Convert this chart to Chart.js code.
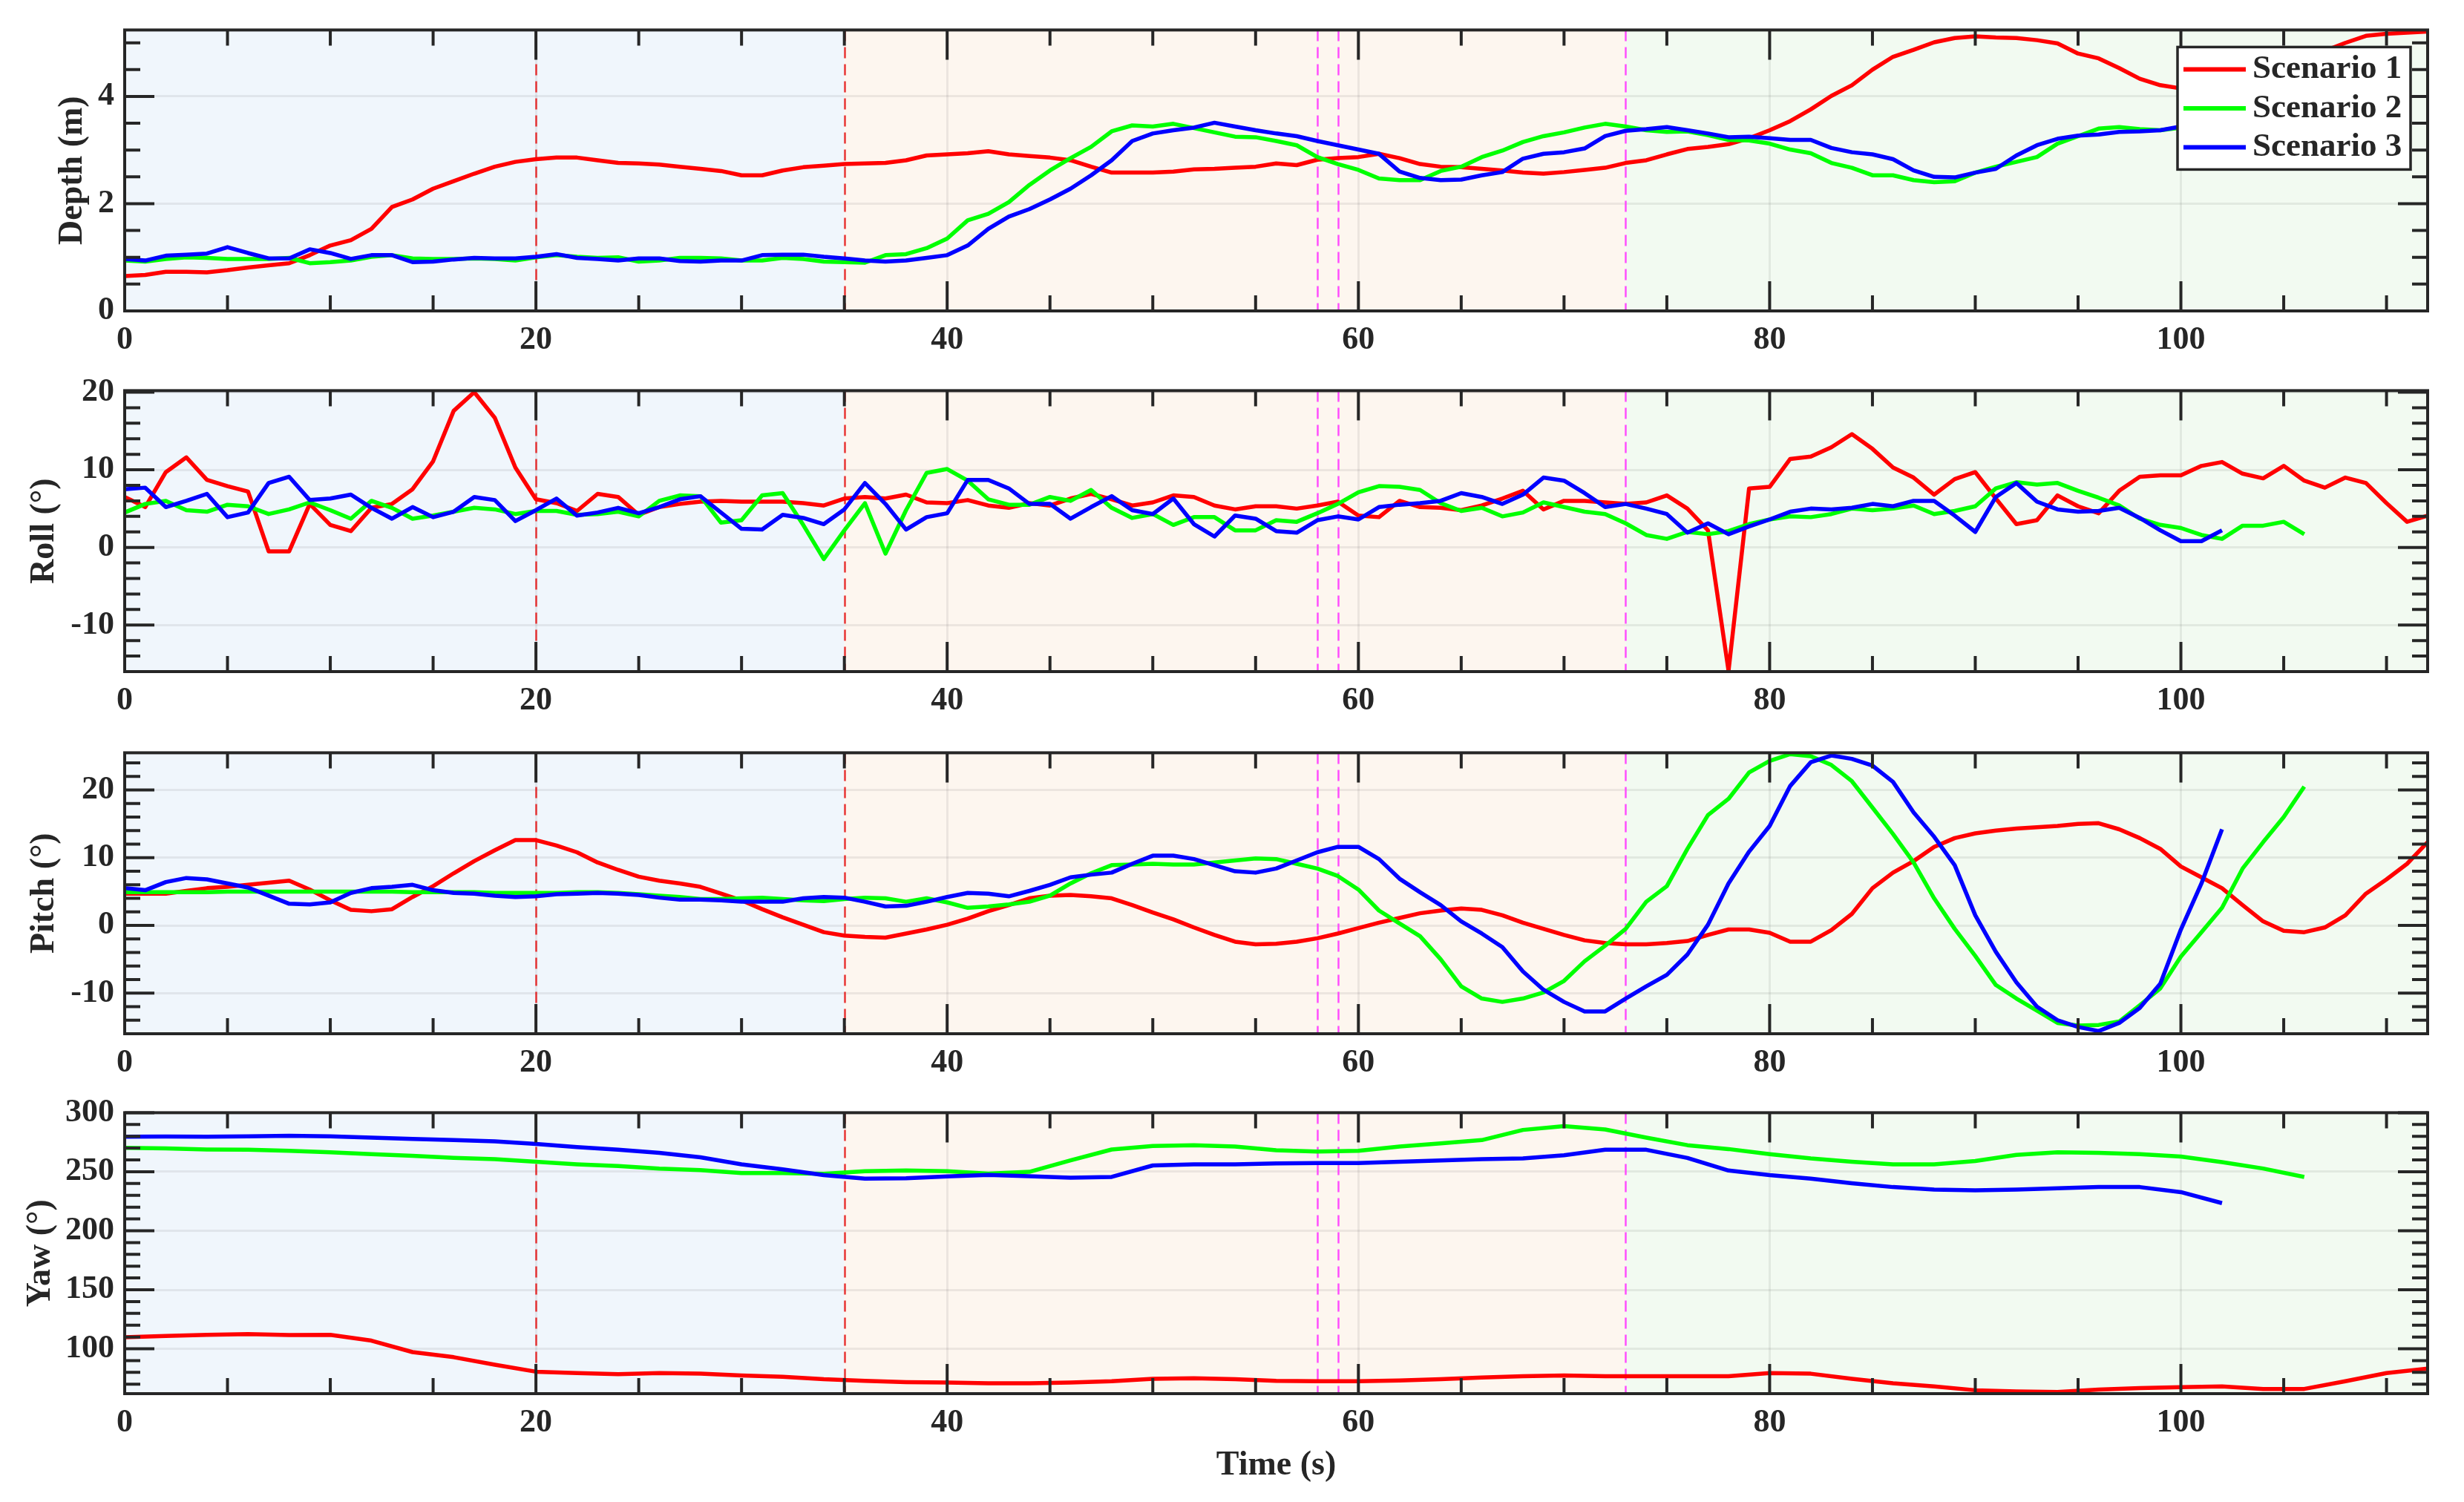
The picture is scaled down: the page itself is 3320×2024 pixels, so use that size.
<!DOCTYPE html>
<html><head><meta charset="utf-8">
<script src="https://cdn.jsdelivr.net/npm/chart.js@4.4.1/dist/chart.umd.min.js"></script>
<style>
html,body{margin:0;padding:0;background:#fff;}
body{width:3320px;height:2024px;position:relative;overflow:hidden;}
canvas{position:absolute;left:0;}
</style></head><body>
<canvas id="p0" width="3320" height="486" style="top:0px;width:3320px;height:486px"></canvas>
<canvas id="p1" width="3320" height="486" style="top:486px;width:3320px;height:486px"></canvas>
<canvas id="p2" width="3320" height="486" style="top:974px;width:3320px;height:486px"></canvas>
<canvas id="p3" width="3320" height="565" style="top:1459px;width:3320px;height:565px"></canvas>
<script>
// ---------------- DATA ----------------
const SCENARIOS = ['Scenario 1', 'Scenario 2', 'Scenario 3'];
function seq(start, end, step) { const a = []; for (let v = start; v <= end + 1e-9; v += step) a.push(v); return a; }
const TIME_S1 = seq(0, 112, 1);
const TIME_S2 = seq(0, 106, 1);
const TIME_S3 = seq(0, 102, 1);
const YAW_TIME_S1 = seq(0, 112, 2);
const YAW_TIME_S2 = seq(0, 106, 2);
const YAW_TIME_S3 = seq(0, 102, 2);

const X_TICKS = [0, 20, 40, 60, 80, 100];
const X_RANGE = [0, 112];
const PHASE_BOUNDS = [0, 35, 73, 112];
const RED_EVENTS = [20, 35];
const MAGENTA_EVENTS = [58, 59, 73];

const DEPTH_TICKS = [0, 2, 4];
const ROLL_TICKS = [-10, 0, 10, 20];
const PITCH_TICKS = [-10, 0, 10, 20];
const YAW_TICKS = [100, 150, 200, 250, 300];

const depthS1 = [0.65,0.67,0.73,0.73,0.72,0.76,0.81,0.85,0.89,1.04,
1.22,1.32,1.53,1.94,2.08,2.28,2.42,2.56,2.69,2.78,
2.83,2.86,2.86,2.81,2.76,2.75,2.73,2.69,2.65,2.61,
2.53,2.53,2.62,2.68,2.71,2.74,2.75,2.76,2.81,2.90,
2.92,2.94,2.98,2.92,2.89,2.86,2.81,2.69,2.58,2.58,
2.58,2.60,2.64,2.65,2.67,2.69,2.75,2.72,2.82,2.85,
2.87,2.93,2.85,2.74,2.69,2.68,2.65,2.62,2.58,2.56,
2.59,2.63,2.67,2.76,2.81,2.92,3.02,3.06,3.11,3.22,
3.37,3.54,3.76,4.01,4.21,4.50,4.74,4.87,5.01,5.09,
5.12,5.10,5.09,5.05,4.99,4.80,4.71,4.53,4.33,4.21,
4.15,4.12,4.12,4.18,4.30,4.50,4.68,4.85,5.00,5.13,
5.17,5.19,5.21];
const depthS2 = [0.94,0.92,0.97,1.00,0.99,0.97,0.97,0.97,0.99,0.89,
0.91,0.94,1.01,1.04,0.98,0.97,0.97,0.98,0.97,0.94,
1.00,1.04,1.01,0.99,1.00,0.92,0.94,0.99,0.99,0.98,
0.94,0.94,0.99,0.97,0.92,0.91,0.90,1.04,1.06,1.17,
1.35,1.69,1.81,2.03,2.35,2.62,2.85,3.06,3.35,3.46,
3.44,3.49,3.41,3.33,3.25,3.24,3.17,3.09,2.87,2.74,
2.63,2.47,2.44,2.44,2.61,2.69,2.87,2.99,3.15,3.26,
3.33,3.42,3.49,3.44,3.37,3.34,3.35,3.28,3.19,3.18,
3.12,3.01,2.94,2.76,2.67,2.53,2.53,2.44,2.40,2.42,
2.58,2.69,2.78,2.87,3.12,3.26,3.40,3.43,3.39,3.37,
3.42,3.45,3.47,3.50,3.50,3.52,3.55];
const depthS3 = [0.97,0.94,1.03,1.05,1.07,1.19,1.08,0.98,0.98,1.15,
1.08,0.97,1.04,1.04,0.91,0.92,0.96,0.99,0.98,0.98,
1.01,1.06,0.99,0.97,0.94,0.98,0.98,0.93,0.92,0.94,
0.94,1.04,1.05,1.05,1.01,0.98,0.94,0.92,0.94,0.99,
1.04,1.22,1.53,1.76,1.90,2.08,2.28,2.53,2.81,3.17,
3.31,3.37,3.42,3.51,3.44,3.37,3.31,3.26,3.17,3.09,
3.01,2.93,2.60,2.48,2.44,2.45,2.53,2.59,2.84,2.93,
2.96,3.03,3.26,3.36,3.39,3.43,3.37,3.31,3.24,3.25,
3.22,3.19,3.19,3.04,2.96,2.92,2.83,2.62,2.50,2.49,
2.58,2.65,2.90,3.09,3.21,3.27,3.29,3.34,3.35,3.37,
3.44,3.46,3.48];

const rollS1 = [6.5,5.2,9.7,11.6,8.7,7.9,7.2,-0.5,-0.5,5.6,
2.9,2.1,5.1,5.6,7.5,11.1,17.6,20.0,16.7,10.3,
6.2,5.7,4.7,6.9,6.5,4.2,5.2,5.6,5.9,6.0,
5.9,5.9,5.9,5.7,5.4,6.3,6.5,6.3,6.8,5.8,
5.7,6.1,5.4,5.1,5.7,5.4,6.3,6.9,6.2,5.4,
5.8,6.7,6.5,5.4,4.9,5.3,5.3,5.0,5.4,5.9,
4.1,3.9,6.0,5.2,5.1,4.8,5.4,6.3,7.3,4.9,
6.0,6.0,5.8,5.6,5.8,6.7,5.0,2.2,-15.9,7.6,
7.8,11.4,11.7,12.9,14.6,12.7,10.3,9.0,6.8,8.8,
9.7,6.3,3.0,3.5,6.7,5.3,4.4,7.3,9.1,9.3,
9.3,10.5,11.0,9.5,8.9,10.5,8.6,7.7,9.0,8.3,
5.7,3.3,4.1];
const rollS2 = [4.5,5.6,6.0,4.8,4.6,5.5,5.3,4.3,4.9,5.8,
4.8,3.7,6.0,5.1,3.7,4.1,4.6,5.1,4.9,4.3,
4.7,4.7,4.2,4.3,4.6,4.0,6.0,6.7,6.6,3.2,
3.5,6.7,7.0,2.9,-1.5,2.2,5.7,-0.8,4.8,9.6,
10.1,8.6,6.2,5.5,5.5,6.5,6.0,7.4,5.1,3.8,
4.3,2.9,3.9,3.9,2.2,2.2,3.5,3.3,4.4,5.6,
7.1,7.9,7.8,7.4,5.7,4.7,5.1,4.0,4.5,5.8,
5.2,4.6,4.3,3.1,1.6,1.1,2.0,1.7,2.1,3.0,
3.6,4.0,3.9,4.3,5.0,4.8,5.0,5.4,4.3,4.7,
5.3,7.6,8.4,8.1,8.3,7.3,6.4,5.4,3.7,2.9,
2.5,1.6,1.1,2.8,2.8,3.3,1.7];
const rollS3 = [7.5,7.7,5.2,6.0,6.9,3.9,4.5,8.3,9.1,6.1,
6.3,6.8,5.1,3.7,5.2,3.9,4.6,6.5,6.1,3.4,
4.8,6.3,4.1,4.5,5.1,4.4,5.2,6.2,6.6,4.5,
2.4,2.3,4.2,3.8,3.0,4.9,8.3,5.6,2.3,3.9,
4.4,8.7,8.7,7.6,5.6,5.6,3.7,5.2,6.6,4.8,
4.3,6.3,3.0,1.4,4.1,3.7,2.1,1.9,3.5,4.0,
3.6,5.2,5.5,5.7,6.0,7.0,6.5,5.6,6.8,9.0,
8.6,7.0,5.2,5.6,5.0,4.3,1.9,3.1,1.7,2.7,
3.6,4.6,5.0,4.9,5.1,5.6,5.3,6.0,6.0,4.1,
2.0,6.5,8.3,5.9,4.9,4.6,4.7,5.1,3.8,2.2,
0.8,0.8,2.2];

const pitchS1 = [4.7,4.7,4.7,5.1,5.5,5.7,6.0,6.3,6.6,5.3,
3.7,2.3,2.1,2.4,4.2,5.8,7.7,9.5,11.1,12.6,
12.6,11.8,10.8,9.3,8.2,7.2,6.6,6.2,5.7,4.7,
3.7,2.4,1.2,0.1,-1.0,-1.5,-1.7,-1.8,-1.2,-0.6,
0.1,1.0,2.1,3.0,4.0,4.4,4.5,4.3,4.0,3.0,
1.9,0.9,-0.3,-1.4,-2.4,-2.8,-2.7,-2.4,-1.9,-1.2,
-0.4,0.4,1.1,1.8,2.2,2.5,2.3,1.5,0.4,-0.5,
-1.4,-2.2,-2.6,-2.8,-2.8,-2.6,-2.3,-1.4,-0.6,-0.6,
-1.1,-2.4,-2.4,-0.7,1.7,5.5,7.8,9.5,11.6,12.9,
13.6,14.0,14.3,14.5,14.7,15.0,15.1,14.2,12.9,11.3,
8.7,7.1,5.5,3.0,0.6,-0.8,-1.0,-0.3,1.5,4.7,
6.8,9.1,12.3];
const pitchS2 = [4.9,4.9,4.9,4.9,4.9,5.0,5.0,5.0,5.0,5.0,
5.0,5.0,5.0,5.0,4.9,4.9,4.9,4.9,4.8,4.8,
4.8,4.8,4.9,4.9,4.8,4.6,4.4,4.2,3.9,3.9,
4.0,4.1,3.9,3.7,3.6,3.9,4.1,4.0,3.5,4.0,
3.4,2.6,2.8,3.1,3.5,4.4,6.2,7.7,8.9,9.0,
9.1,9.0,9.0,9.3,9.6,9.9,9.8,9.1,8.4,7.3,
5.3,2.2,0.3,-1.6,-5.0,-9.0,-10.8,-11.3,-10.8,-9.9,
-8.2,-5.3,-3.0,-0.5,3.5,5.8,11.3,16.3,18.7,22.6,
24.3,25.3,25.0,23.7,21.3,17.4,13.5,9.3,4.0,-0.5,
-4.5,-8.8,-10.8,-12.6,-14.4,-14.8,-14.7,-14.2,-11.8,-9.3,
-4.6,-1.0,2.6,8.4,12.3,16.0,20.5];
const pitchS3 = [5.5,5.2,6.4,7.0,6.8,6.2,5.6,4.4,3.2,3.1,
3.4,4.8,5.5,5.7,6.0,5.2,4.8,4.7,4.4,4.2,
4.3,4.6,4.7,4.8,4.7,4.5,4.1,3.8,3.8,3.7,
3.5,3.5,3.5,4.0,4.2,4.1,3.5,2.8,2.9,3.5,
4.2,4.8,4.7,4.3,5.1,6.0,7.1,7.5,7.8,9.1,
10.3,10.3,9.8,8.9,8.0,7.8,8.4,9.6,10.8,11.6,
11.6,9.8,6.9,4.9,3.0,0.6,-1.2,-3.2,-6.8,-9.5,
-11.3,-12.7,-12.7,-10.8,-9.0,-7.3,-4.3,0.1,6.2,10.9,
14.7,20.6,24.1,25.1,24.6,23.6,21.2,16.7,13.1,8.9,
1.5,-3.9,-8.4,-12.0,-14.0,-15.0,-15.6,-14.4,-12.2,-8.6,
-0.6,6.2,14.2];

const yawS1 = [109.7,110.8,111.8,112.5,111.6,111.8,106.9,97.2,92.9,86.5,
80.6,79.4,78.5,79.4,78.9,77.4,76.3,74.2,72.9,71.8,
71.4,70.8,70.8,71.4,72.5,74.6,75.1,74.2,72.9,72.5,
72.5,73.1,74.2,75.7,76.8,77.4,76.8,76.8,76.8,76.8,
79.4,78.9,74.6,70.8,68.2,64.9,63.9,63.4,65.4,66.7,
67.5,68.2,66.0,66.0,72.5,79.4,83.2];
const yawS2 = [270.3,269.7,268.8,268.6,267.7,266.5,264.9,263.4,261.7,260.6,
258.5,256.3,254.8,252.7,251.4,248.8,248.8,248.2,250.5,251.0,
250.5,248.4,249.9,259.6,268.8,271.8,272.5,271.4,268.2,267.1,
267.7,271.4,274.0,276.8,285.4,288.6,285.8,278.9,272.5,269.2,
264.9,261.3,258.5,256.3,256.3,259.1,264.3,266.5,266.0,264.9,
262.8,258.1,252.7,245.6];
const yawS3 = [279.6,279.8,279.6,280.0,280.4,280.0,278.9,277.8,276.8,275.7,
273.5,270.8,268.6,266.0,262.2,256.3,252.0,247.1,244.1,244.5,
246.0,247.3,246.2,244.9,245.6,255.3,256.3,256.3,257.0,257.4,
257.4,258.5,259.6,260.6,261.3,263.9,268.6,268.6,261.7,251.0,
247.1,244.1,240.2,237.0,234.8,234.2,234.8,235.9,237.0,237.0,
232.7,223.4];

// ---------------- STYLE ----------------
const COLORS = ['#ff0000', '#00ff00', '#0000ff'];
const PHASE_COLORS = ['#f0f6fc', '#fdf6ef', '#f2faf1'];
const GRID_COLOR = 'rgba(0,0,0,0.065)';
const FRAME_COLOR = '#262626';
const TEXT_COLOR = '#262626';
const FONT_FAMILY = "'Liberation Serif', 'Times New Roman', Times, serif";
const TICK_FONT = { family: FONT_FAMILY, size: 44, weight: 'bold' };
const TITLE_FONT = { family: FONT_FAMILY, size: 46, weight: 'bold' };
const AREA_TOP = 35, AREA_H = 384, AXIS_W = 168, RIGHT_PAD = 49;
const LINE_W = 5.5;

const PANELS = [
  { id: 'p0', title: 'Depth (m)', range: [0, 5.24], ticks: DEPTH_TICKS, minor: 0.5,
    series: [depthS1, depthS2, depthS3], times: [TIME_S1, TIME_S2, TIME_S3], titleX: 98, legend: true, xTitle: false },
  { id: 'p1', title: 'Roll (°)', range: [-16, 20.2], ticks: ROLL_TICKS, minor: 2,
    series: [rollS1, rollS2, rollS3], times: [TIME_S1, TIME_S2, TIME_S3], titleX: 60, legend: false, xTitle: false },
  { id: 'p2', title: 'Pitch (°)', range: [-16, 25.5], ticks: PITCH_TICKS, minor: 2,
    series: [pitchS1, pitchS2, pitchS3], times: [TIME_S1, TIME_S2, TIME_S3], titleX: 60, legend: false, xTitle: false },
  { id: 'p3', title: 'Yaw (°)', range: [62, 300], ticks: YAW_TICKS, minor: 10,
    series: [yawS1, yawS2, yawS3], times: [YAW_TIME_S1, YAW_TIME_S2, YAW_TIME_S3], titleX: 55, legend: false, xTitle: true }
];

function decorPlugin(p) {
  return {
    id: 'decor_' + p.id,
    beforeDraw(chart) {
      const { ctx, chartArea: a, scales: { x } } = chart;
      ctx.save();
      for (let i = 0; i < PHASE_BOUNDS.length - 1; i++) {
        const x0 = x.getPixelForValue(PHASE_BOUNDS[i]);
        const x1 = x.getPixelForValue(PHASE_BOUNDS[i + 1]);
        ctx.fillStyle = PHASE_COLORS[i];
        ctx.fillRect(x0, a.top, x1 - x0, a.bottom - a.top);
      }
      ctx.restore();
    },
    beforeDatasetsDraw(chart) {
      const { ctx, chartArea: a, scales: { x } } = chart;
      ctx.save();
      ctx.lineWidth = 2.5;
      ctx.setLineDash([15, 8]);
      const drawV = (vals, color) => {
        ctx.strokeStyle = color;
        vals.forEach(v => {
          const px = Math.round(x.getPixelForValue(v)) + 0.5;
          ctx.beginPath(); ctx.moveTo(px, a.top); ctx.lineTo(px, a.bottom); ctx.stroke();
        });
      };
      drawV(RED_EVENTS, 'rgba(228,20,20,0.85)');
      drawV(MAGENTA_EVENTS, 'rgba(255,60,255,0.9)');
      ctx.restore();
    },
    afterDraw(chart) {
      const { ctx, chartArea: a, scales: { x, y } } = chart;
      ctx.save();
      ctx.strokeStyle = FRAME_COLOR;
      ctx.lineCap = 'butt';
      ctx.lineWidth = 4;
      const MAJ = 40, MIN = 21;
      const xMinorStep = 5;
      for (let v = X_RANGE[0]; v <= X_RANGE[1] + 1e-9; v += xMinorStep) {
        const px = x.getPixelForValue(v);
        if (px <= a.left + 2 || px >= a.right - 2) continue;
        const len = X_TICKS.includes(v) ? MAJ : MIN;
        ctx.beginPath();
        ctx.moveTo(px, a.bottom); ctx.lineTo(px, a.bottom - len);
        ctx.moveTo(px, a.top); ctx.lineTo(px, a.top + len);
        ctx.stroke();
      }
      const yStart = Math.ceil(p.range[0] / p.minor - 1e-9) * p.minor;
      for (let v = yStart; v <= p.range[1] + 1e-9; v += p.minor) {
        const vv = Math.round(v * 1000) / 1000;
        const py = y.getPixelForValue(vv);
        if (py >= a.bottom - 2 || py <= a.top - 1) continue;
        const len = p.ticks.some(t => Math.abs(t - vv) < 1e-6) ? MAJ : MIN;
        ctx.beginPath();
        ctx.moveTo(a.left, py); ctx.lineTo(a.left + len, py);
        ctx.moveTo(a.right, py); ctx.lineTo(a.right - len, py);
        ctx.stroke();
      }
      ctx.lineWidth = 4;
      ctx.strokeRect(a.left, a.top, a.right - a.left, a.bottom - a.top);
      if (p.legend) {
        const bw = 314, bh = 165;
        const bx = a.right - 23 - bw, by = a.top + 23;
        ctx.fillStyle = '#ffffff';
        ctx.fillRect(bx, by, bw, bh);
        ctx.lineWidth = 3.5;
        ctx.strokeStyle = FRAME_COLOR;
        ctx.strokeRect(bx, by, bw, bh);
        ctx.font = 'bold 45px ' + FONT_FAMILY;
        ctx.textBaseline = 'middle';
        ctx.textAlign = 'left';
        chart.data.datasets.forEach((ds, i) => {
          const cy = by + 30 + i * 52.5;
          ctx.strokeStyle = ds.borderColor;
          ctx.lineWidth = 6;
          ctx.beginPath(); ctx.moveTo(bx + 8, cy); ctx.lineTo(bx + 92, cy); ctx.stroke();
          ctx.fillStyle = TEXT_COLOR;
          ctx.fillText(ds.label, bx + 101, cy);
        });
      }
      ctx.restore();
    }
  };
}

PANELS.forEach(p => {
  const canvas = document.getElementById(p.id);
  const H = canvas.height;
  const xAxisH = H - AREA_TOP - AREA_H;
  new Chart(canvas, {
    type: 'line',
    data: {
      datasets: p.series.map((vals, i) => ({
        label: SCENARIOS[i],
        data: vals.map((v, k) => ({ x: p.times[i][k], y: v })),
        borderColor: COLORS[i],
        backgroundColor: COLORS[i],
        borderWidth: LINE_W,
        pointRadius: 0,
        pointHoverRadius: 0,
        tension: 0,
        fill: false,
        order: 3 - i,
        borderJoinStyle: 'round'
      }))
    },
    options: {
      responsive: false,
      maintainAspectRatio: false,
      animation: false,
      devicePixelRatio: 1,
      events: [],
      layout: { padding: { left: 0, right: RIGHT_PAD, top: AREA_TOP, bottom: 0 } },
      plugins: { legend: { display: false }, tooltip: { enabled: false } },
      scales: {
        x: {
          type: 'linear', min: X_RANGE[0], max: X_RANGE[1],
          afterBuildTicks: s => { s.ticks = X_TICKS.map(v => ({ value: v })); },
          afterFit: s => { s.height = xAxisH; },
          grid: { color: GRID_COLOR, lineWidth: 3, drawTicks: false },
          border: { display: false },
          ticks: { font: TICK_FONT, color: TEXT_COLOR, padding: 13, maxRotation: 0, autoSkip: false },
          title: { display: p.xTitle, text: 'Time (s)', font: TITLE_FONT, color: TEXT_COLOR, padding: { top: 0, bottom: 21 } }
        },
        y: {
          type: 'linear', min: p.range[0], max: p.range[1],
          afterBuildTicks: s => { s.ticks = p.ticks.map(v => ({ value: v })); },
          afterFit: s => { s.width = AXIS_W; },
          grid: { color: GRID_COLOR, lineWidth: 3, drawTicks: false },
          border: { display: false },
          ticks: { font: TICK_FONT, color: TEXT_COLOR, padding: 14, autoSkip: false },
          title: { display: true, text: p.title, font: TITLE_FONT, color: TEXT_COLOR, padding: { top: p.titleX - 27.6, bottom: 0 } }
        }
      }
    },
    plugins: [decorPlugin(p)]
  });
});
</script>
</body></html>
